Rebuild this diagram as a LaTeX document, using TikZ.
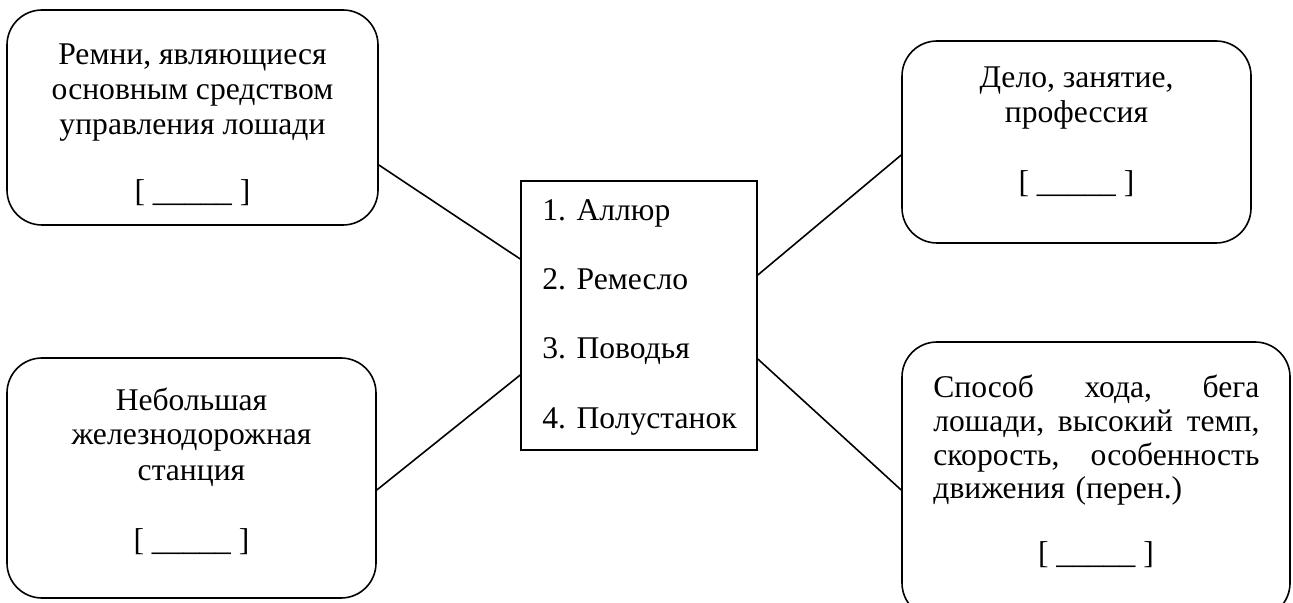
\documentclass[tikz,border=0pt]{standalone}
\usepackage{fontspec}
\setmainfont{Liberation Serif}
\begin{document}
\begin{tikzpicture}[x=0.5pt,y=-0.5pt,
  rbox/.style={draw, rounded corners=17.5pt, line width=0.8pt, inner sep=0pt},
  lbox/.style={draw, line width=0.8pt, inner sep=0pt},
  txt/.style={align=center, font=\fontsize{15.8}{17.5}\selectfont, inner sep=0pt},
  link/.style={line width=0.8pt}]
\useasboundingbox (0,0) rectangle (1293,603);
% boxes
\node[rbox, minimum width=185.5pt, minimum height=107.5pt] (tl) at (192.5,117.5) {};
\node[rbox, minimum width=184.5pt, minimum height=120pt] (bl) at (191.5,478) {};
\node[rbox, minimum width=174.5pt, minimum height=101pt] (tr) at (1076.5,142) {};
\node[rbox, minimum width=194pt, minimum height=138pt] (br) at (1096,480) {};
\node[lbox, minimum width=118pt, minimum height=134.5pt] (c) at (639,315.5) {};
% texts
\node[txt, anchor=base] (tlt) at (192.5,135) {Ремни, являющиеся\\основным средством\\управления лошади};
\node[txt, anchor=base] (tlb) at (192.5,202) {[ \_\_\_\_\_ ]};
\node[txt, anchor=base] (trt) at (1076.5,123) {Дело, занятие,\\профессия};
\node[txt, anchor=base] (trb) at (1076.5,193) {[ \_\_\_\_\_ ]};
\node[txt, anchor=base] (blt) at (191.5,480) {Небольшая\\железнодорожная\\станция};
\node[txt, anchor=base] (blb) at (191.5,550) {[ \_\_\_\_\_ ]};
\node[txt, anchor=base west, align=left, text width=163pt, font=\fontsize{15.8}{16.75}\selectfont] (brt) at (933,398)
  {Способ\hfill хода,\hfill бега\\лошади,\hfill высокий\hfill темп,\\скорость,\hfill особенность\\движения (перен.)};
\node[txt, anchor=base] (brb) at (1096,563) {[ \_\_\_\_\_ ]};
\node[txt, anchor=base west, align=left, font=\fontsize{15.8}{34.5}\selectfont] (ct) at (542,428)
  {1. Аллюр\\2. Ремесло\\3. Поводья\\4. Полустанок};
% connectors
\draw[link] (tl.east |- 0,165) -- (c.west |- 0,259);
\draw[link] (bl.east |- 0,490) -- (c.west |- 0,375);
\draw[link] (c.east |- 0,275) -- (tr.west |- 0,155);
\draw[link] (c.east |- 0,359) -- (br.west |- 0,490);
\end{tikzpicture}
\end{document}
